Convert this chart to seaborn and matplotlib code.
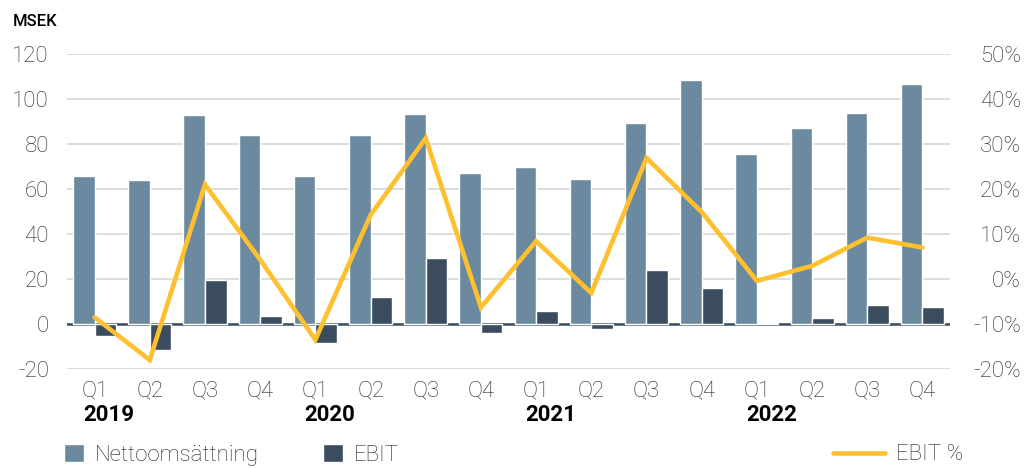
import numpy as np
import pandas as pd
import matplotlib
matplotlib.use('Agg')
import matplotlib.pyplot as plt
import seaborn as sns

# data
years = ['2019', '2020', '2021', '2022']
quarters = ['Q1', 'Q2', 'Q3', 'Q4']
nettoomsattning = [66, 64, 93, 84, 66, 84, 93.5, 67, 70, 64.5, 89.5, 108.5, 75.5, 87, 94, 106.5]
ebit = [-5.5, -11.5, 19.5, 3.5, -8.5, 12, 29.5, -4, 6, -2, 24, 16, 0.3, 2.8, 8.5, 7.5]
ebit_pct = [-8.5, -18, 21, 4.3, -13.5, 14.2, 31.3, -6.3, 8.4, -3.1, 26.9, 14.9, -0.4, 2.9, 9.2, 7.0]

periods = [y + ' ' + q for y in years for q in quarters]
df = pd.DataFrame({
    'period': periods * 2,
    'serie': ['Nettoomsättning'] * 16 + ['EBIT'] * 16,
    'value': nettoomsattning + ebit,
})

c_netto = '#6b8aa0'
c_ebit = '#3a4c5e'
c_line = '#fec02e'
c_text = '#222222'

sns.set_theme(style='white')
plt.rcParams['font.family'] = ['Roboto', 'DejaVu Sans']
plt.rcParams['font.weight'] = 'light'

fig = plt.figure(figsize=(10.34, 4.68), dpi=100)
ax = fig.add_axes([0.0648, 0.2115, 0.8540, 0.6731])

sns.barplot(data=df, x='period', y='value', hue='serie', palette=[c_netto, c_ebit],
            width=0.78, saturation=1, legend=False, ax=ax, zorder=2)
ax.set_ylim(-20, 120)
ax.set_xlim(-0.5, 15.5)
ax.set_yticks(range(-20, 121, 20))
ax.set_yticklabels([str(v) for v in range(-20, 121, 20)])
ax.set_xticks(range(16))
ax.set_xticklabels(quarters * 4)
ax.grid(axis='y', color='#d3d3d3', lw=1.1, zorder=0)
ax.grid(axis='x', visible=False)
ax.set_axisbelow(True)
ax.axhline(0, color=c_ebit, lw=1.8, zorder=1.5)
ax.set_xlabel('')
ax.set_ylabel('')
ax.tick_params(axis='y', length=0, pad=13, labelsize=16, labelcolor=c_text)
ax.tick_params(axis='x', length=0, pad=8, labelsize=16, labelcolor=c_text)
for s in ax.spines.values():
    s.set_visible(False)

ax2 = ax.twinx()
sns.lineplot(x=np.arange(16), y=ebit_pct, ax=ax2, color=c_line, lw=3.3,
             solid_capstyle='round', solid_joinstyle='miter')
ax2.set_ylim(-20, 50)
ax2.set_yticks(range(-20, 51, 10))
ax2.set_yticklabels([f'{v}%' for v in range(-20, 51, 10)], ha='right')
ax2.tick_params(axis='y', length=0, pad=51, labelsize=16, labelcolor=c_text)
ax2.grid(False)
for s in ax2.spines.values():
    s.set_visible(False)

# year labels under Q1
for i, y in enumerate(years):
    ax.text(i * 4 - 0.2, -0.145, y, transform=ax.get_xaxis_transform(),
            ha='left', va='center', fontsize=16, fontweight='bold', color='black')

fig.text(0.0126, 0.953, 'MSEK', ha='left', va='center', fontsize=12,
         fontweight='medium', color='black')

# legend, three separate entries spread over the width
leg_kw = dict(loc='center left', frameon=False, fontsize=16, handletextpad=0.5,
              borderaxespad=0, borderpad=0)
ly = 0.028
l1 = fig.legend([ax.containers[0]], ['Nettoomsättning'], bbox_to_anchor=(0.062, ly),
                handlelength=0.9, handleheight=0.9, labelcolor=c_text, **leg_kw)
l2 = fig.legend([ax.containers[1]], ['EBIT'], bbox_to_anchor=(0.312, ly),
                handlelength=0.9, handleheight=0.9, labelcolor=c_text, **leg_kw)
l3 = fig.legend([ax2.lines[0]], ['EBIT %'], bbox_to_anchor=(0.806, ly),
                handlelength=2.3, labelcolor=c_text, **leg_kw)

fig.savefig('out.png', dpi=100)
